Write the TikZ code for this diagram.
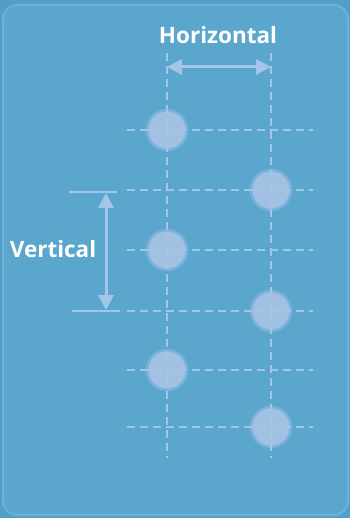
\documentclass[tikz,border=0pt]{standalone}
\usepackage{fontspec}
\setmainfont{Open Sans}
\usepackage{tikz}
\definecolor{fond}{HTML}{519FC7}
\definecolor{panneau}{HTML}{5AA6CD}
\definecolor{bord}{HTML}{6DB0D8}
\definecolor{trait}{HTML}{A3C6E8}
\definecolor{point}{HTML}{A2C0E2}
\definecolor{halo}{HTML}{78B1DB}
\usetikzlibrary{arrows.meta}

\begin{document}
\begin{tikzpicture}[x=1pt,y=-1pt]
  \useasboundingbox (0,0) rectangle (350,518);
  \fill[fond] (0,0) rectangle (350,518);
  \draw[bord,line width=2pt,fill=panneau,rounded corners=14pt] (3,5) rectangle (348,515);

  \tikzset{
    point/.style={circle,minimum size=40pt,inner sep=0pt,fill=point,draw=halo,line width=2.5pt},
    grille/.style={trait,line width=2pt,dash pattern=on 8pt off 5pt},
    fleche/.style={trait,line width=3pt,{Triangle[length=15pt,width=15pt]}-{Triangle[length=15pt,width=15pt]}},
    titre/.style={text=white,font=\bfseries\fontsize{22.5}{27}\selectfont}
  }

  % points
  \node[point] at (167,130) (p1) {};
  \node[point] at (271,190) (p2) {};
  \node[point] at (167,250) (p3) {};
  \node[point] at (271,311) (p4) {};
  \node[point] at (167,370) (p5) {};
  \node[point] at (271,427) (p6) {};

  % grille
  \draw[grille] (167,53) -- (167,458);
  \draw[grille] (271,53) -- (271,458);
  \draw[grille] (127,130) -- (313,130);
  \draw[grille] (127,190) -- (313,190);
  \draw[grille] (127,250) -- (313,250);
  \draw[grille] (127,311) -- (313,311);
  \draw[grille] (127,370) -- (313,370);
  \draw[grille] (127,427) -- (313,427);

  % cotes
  \node[titre] at (218,35) (horizontal) {Horizontal};
  \coordinate (hg) at (167,67);
  \coordinate (hd) at (271,67);
  \draw[fleche] (hg) -- (hd);

  \node[titre] at (53,249) (vertical) {Vertical};
  \coordinate (vh) at (106,193);
  \coordinate (vb) at (106,310);
  \draw[trait,line width=2.5pt] (69,192) -- (117,192);
  \draw[trait,line width=2.5pt] (72,311) -- (120,311);
  \draw[fleche] (vh) -- (vb);

\end{tikzpicture}
\end{document}
